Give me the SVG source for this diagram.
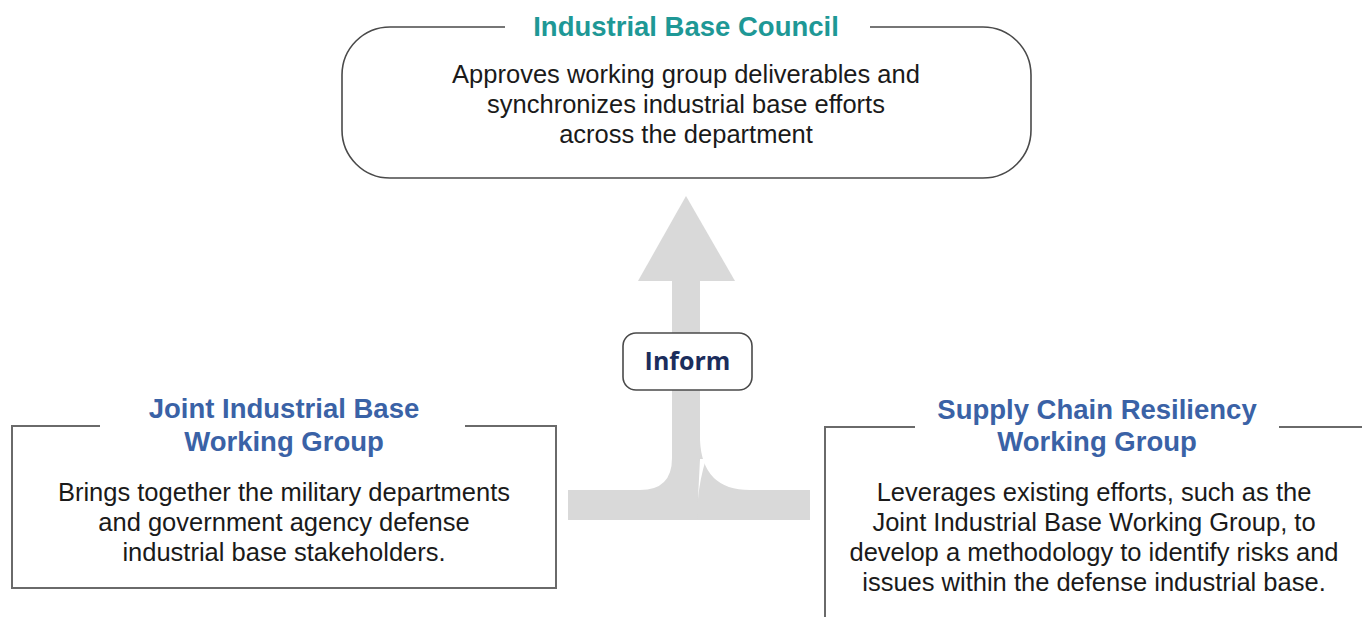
<svg xmlns="http://www.w3.org/2000/svg" width="1362" height="617" viewBox="0 0 1362 617">
  <style>
    .frame { fill: none; stroke: #4a4a4a; stroke-width: 1.6; }
    .sq { fill: none; stroke: #6a6a6a; stroke-width: 2; }
    .title { font-family: "Liberation Sans", Arial, sans-serif; font-weight: bold; font-size: 27.5px; text-anchor: middle; }
    .teal { fill: #1e9896; }
    .blue { fill: #3a62a6; }
    .body { font-family: "Liberation Sans", Arial, sans-serif; font-size: 25.5px; fill: #1a1a1a; text-anchor: middle; }
    .flow { fill: #d9d9d9; }
    .inform { font-family: "Open Sans", "Liberation Sans", sans-serif; font-weight: bold; font-size: 25px; fill: #1b2d5c; text-anchor: middle; }
  </style>
  <rect width="1362" height="617" fill="#ffffff"/>

  <g id="connectors">
    <!-- arrowhead -->
    <polygon class="flow" points="686,196 735,281 638,281"/>
    <!-- left J: stem + left band -->
    <path class="flow" d="M672,280 V458 Q672,490 640,490 H568 V520 H700 V280 Z"/>
    <!-- right branch -->
    <path class="flow" d="M700,440 Q702,490 750,490 H810 V520 H697 Z"/>
    <!-- gap between branches -->
    <path d="M700,459 L706,459 Q700,478 698,499 Q699,478 700,459 Z" fill="#ffffff"/>
  </g>

  <g id="inform">
    <rect x="623" y="333" width="129" height="57" rx="13" fill="#ffffff" stroke="#4a4a4a" stroke-width="1.6"/>
    <text class="inform" x="687.5" y="370">Inform</text>
  </g>

  <g id="industrial-base-council">
    <path class="frame" d="M505,27 H390 A48,48 0 0 0 342,75 V130 A48,48 0 0 0 390,178 H983 A48,48 0 0 0 1031,130 V75 A48,48 0 0 0 983,27 H870"/>
    <text class="title teal" x="686" y="36">Industrial Base Council</text>
    <text class="body" x="686" y="83">Approves working group deliverables and</text>
    <text class="body" x="686" y="113">synchronizes industrial base efforts</text>
    <text class="body" x="686" y="143">across the department</text>
  </g>

  <g id="jibwg">
    <path class="sq" d="M100,426 H12 V588 H556 V426 H465"/>
    <text class="title blue" x="284" y="418">Joint Industrial Base</text>
    <text class="title blue" x="284" y="451">Working Group</text>
    <text class="body" x="284" y="501">Brings together the military departments</text>
    <text class="body" x="284" y="531">and government agency defense</text>
    <text class="body" x="284" y="561">industrial base stakeholders.</text>
  </g>

  <g id="scrwg">
    <path class="sq" d="M915,427 H825 V620"/>
    <path class="sq" d="M1279,427 H1362"/>
    <text class="title blue" x="1097" y="419">Supply Chain Resiliency</text>
    <text class="title blue" x="1097" y="451">Working Group</text>
    <text class="body" x="1094" y="501">Leverages existing efforts, such as the</text>
    <text class="body" x="1094" y="531">Joint Industrial Base Working Group, to</text>
    <text class="body" x="1094" y="561">develop a methodology to identify risks and</text>
    <text class="body" x="1094" y="591">issues within the defense industrial base.</text>
  </g>
</svg>
